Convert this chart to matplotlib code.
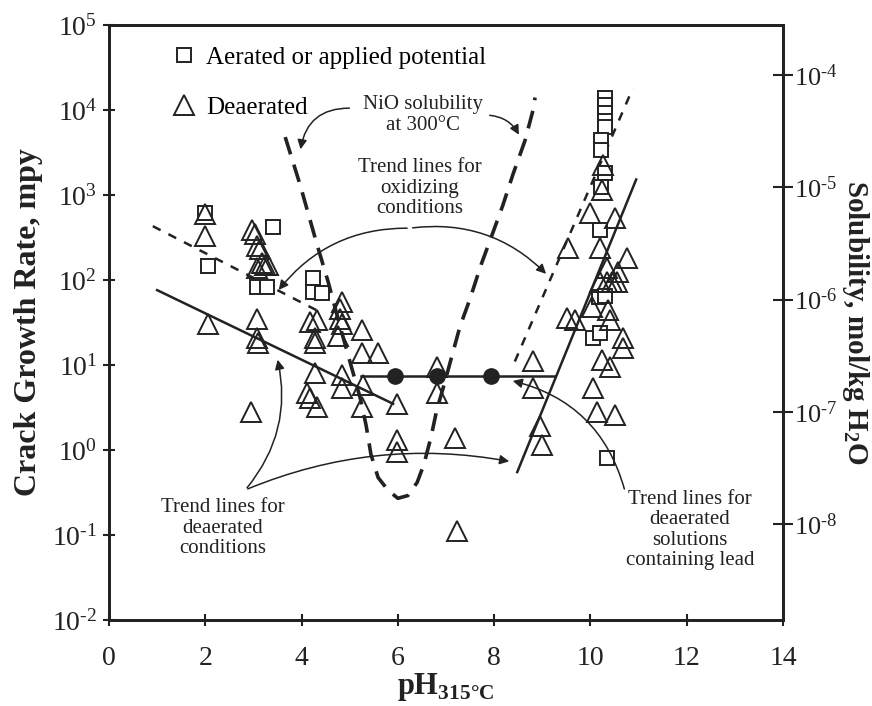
import matplotlib
matplotlib.use("Agg")
import matplotlib.pyplot as plt
import numpy as np

plt.rcParams['font.family'] = ['Liberation Serif', 'DejaVu Serif']
plt.rcParams['mathtext.fontset'] = 'custom'
plt.rcParams['mathtext.rm'] = 'Liberation Serif'
plt.rcParams['mathtext.bf'] = 'Liberation Serif:bold'
plt.rcParams['axes.unicode_minus'] = False

# aerated or applied potential (squares)
sq_ph = [2.0, 2.05, 3.07, 3.28, 3.41, 4.24, 4.24, 4.42,
         10.3, 10.3, 10.3, 10.3, 10.3, 10.22, 10.22, 10.3, 10.22,
         10.2, 10.18, 10.3, 10.05, 10.2, 10.35]
sq_rate = [620, 146, 83, 83, 420, 105, 72, 70,
           14000, 11500, 9200, 7400, 6300, 4400, 3400, 1800, 1250,
           390, 63, 65, 21, 24, 0.8]

# deaerated (triangles)
tri_ph = [2.0, 2.0, 2.05,
          2.95, 2.97, 3.03, 3.07, 3.14, 3.18, 3.24, 3.3, 3.07, 3.07, 3.07, 3.09,
          4.84, 4.80, 4.80, 4.84, 4.76, 4.32, 4.18, 4.28, 4.28, 5.26, 5.26, 5.59,
          4.28, 4.84, 4.84, 4.11, 4.18, 4.32, 5.28, 5.26, 5.98,
          6.81, 6.81, 5.98, 5.98, 7.19, 7.23,
          8.81, 8.81, 8.95, 8.99, 9.51, 9.68, 9.54,
          9.99, 10.51, 10.2, 10.76, 10.34, 10.57, 10.2, 10.34, 10.45, 10.55,
          10.03, 10.37, 10.4, 10.68, 10.68, 10.24, 10.4, 10.05, 10.13, 10.51,
          10.26, 10.24]
tri_rate = [600, 330, 30,
            2.8, 390, 350, 250, 230, 160, 150, 150, 140, 35, 21, 18,
            55, 45, 35, 30, 22, 34, 32, 21, 18, 26, 14, 14,
            8, 7.6, 5.4, 4.7, 4.1, 3.2, 5.8, 3.2, 3.5,
            9.5, 4.7, 1.3, 0.95, 1.4, 0.11,
            11, 5.4, 1.9, 1.15, 36, 34, 240,
            620, 540, 240, 180, 140, 125, 95, 95, 95, 95,
            48, 44, 34, 21, 16, 11.5, 9.5, 5.4, 2.8, 2.6,
            2250, 1150]

# lead solutions (filled circles) and trend lines
pb_ph = [5.94, 6.81, 7.94]
pb_rate = [7.4, 7.4, 7.4]
pb_line_ph = [5.23, 9.26]
pb_line_rate = [7.4, 7.4]
lead_ph = [8.48, 10.95]
lead_rate = [0.55, 1520]
deaer_ph = [1.0, 5.9]
deaer_rate = [76, 3.5]
oxl_ph = [0.91, 4.42]
oxl_rate = [430, 41]
oxr_ph = [8.43, 10.88]
oxr_rate = [11, 18000]

# NiO solubility at 300 C (right axis)
nio_ph = [3.66, 3.97, 4.32, 4.55, 4.80, 5.01, 5.22, 5.34, 5.44, 5.59, 5.80, 6.00,
          6.21, 6.40, 6.54, 6.69, 6.81, 6.96, 7.10, 7.29, 7.50, 7.73, 7.96, 8.18,
          8.39, 8.64, 8.81, 8.85]
nio_sol = [2.8e-5, 1.05e-5, 3.1e-6, 1.45e-6, 5.75e-7, 2.75e-7, 1.32e-7, 7.6e-8,
           4.2e-8, 2.6e-8, 2.0e-8, 1.7e-8, 1.8e-8, 2.35e-8, 3.4e-8, 6.0e-8,
           1.05e-7, 1.74e-7, 2.9e-7, 5.75e-7, 1.02e-6, 2.05e-6, 3.8e-6, 6.9e-6,
           1.3e-5, 2.6e-5, 4.9e-5, 6.3e-5]

left_exp = list(range(-2, 6))
right_exp = list(range(-8, -3))


def pow_label(k):
    s = str(k).replace('-', r'\text{-}')
    return r'$\mathdefault{10^{%s}}$' % s


fig = plt.figure(figsize=(8.72, 7.06), dpi=100)
ax = fig.add_axes([109/872, 1-620/706, 674/872, 595/706])
ax2 = ax.twinx()

ink = '#222222'
ax.plot(sq_ph, sq_rate, ls='none', marker='s', ms=10, mfc='white', mec=ink, mew=1.4,
        label='Aerated or applied potential', zorder=3)
ax.plot(tri_ph, tri_rate, ls='none', marker='^', ms=14, mfc='none', mec=ink, mew=1.4,
        label='Deaerated', zorder=3)

ax.plot(deaer_ph, deaer_rate, color=ink, lw=1.8)
ax.plot(lead_ph, lead_rate, color=ink, lw=1.8)
ax.plot(pb_line_ph, pb_line_rate, color=ink, lw=1.8)
ax.plot(pb_ph, pb_rate, ls='none', marker='o', ms=11, color=ink, zorder=4)
ax.plot(oxl_ph, oxl_rate, color=ink, lw=1.8, dashes=(3.5, 3.5))
ax.plot(oxr_ph, oxr_rate, color=ink, lw=1.8, dashes=(3.5, 3.5))

ax.set_xlim(0, 14)
ax.set_ylim(1e-2, 1e5)
ax.set_yscale('log')
ax2.set_yscale('log')
ax2.set_ylim(10**-8.853, 10**-3.555)
ax2.plot(nio_ph, nio_sol, color=ink, lw=2.6, dashes=(5, 3))

ax.set_xticks(range(0, 15, 2))
ax.set_yticks([10.0**k for k in left_exp], [pow_label(k) for k in left_exp])
ax.yaxis.set_minor_locator(matplotlib.ticker.NullLocator())
ax2.set_yticks([10.0**k for k in right_exp], [pow_label(k) for k in right_exp])
ax2.yaxis.set_minor_locator(matplotlib.ticker.NullLocator())

ax.tick_params(axis='both', direction='inout', length=9, width=1.5, labelsize=20,
               colors=ink, pad=4)
ax.tick_params(axis='x', pad=14)
ax2.tick_params(axis='y', direction='inout', length=14, width=1.5, labelsize=19,
                colors=ink, pad=1)
for a in (ax, ax2):
    for s in a.spines.values():
        s.set_linewidth(2)
        s.set_color(ink)

ax.set_ylabel('Crack Growth Rate, mpy', fontsize=23, fontweight='bold', color=ink,
              va='center', ha='center')
ax.yaxis.set_label_coords(-0.12, 0.5)
ax2.set_ylabel(r'Solubility, mol/kg H$_\mathbf{2}$O', fontsize=21, fontweight='bold',
               color=ink, rotation=270, va='center', ha='center')
ax2.yaxis.set_label_coords(1.108, 0.5)
ax.set_xlabel(r'pH$_\mathbf{315\degree C}$', fontsize=22, fontweight='bold', color=ink,
              labelpad=0)

ax.legend(loc='upper left', bbox_to_anchor=(0.07, 0.985), frameon=False, fontsize=18,
          labelspacing=1.1, handletextpad=0.3, handlelength=1.2, borderpad=0)

fs = 15
ls = 1.1
arr = dict(arrowstyle='-|>', color=ink, lw=1.1, mutation_scale=14)
ax.text(6.52, 10**3.94, 'NiO solubility\nat 300°C', ha='center', va='center', fontsize=fs,
        color=ink, linespacing=ls)
ax.annotate('', xy=(3.97, 3200), xytext=(5.05, 10500),
            arrowprops=dict(arr, connectionstyle='arc3,rad=0.45'))
ax.annotate('', xy=(8.54, 10**3.68), xytext=(7.85, 10**3.94),
            arrowprops=dict(arr, connectionstyle='arc3,rad=-0.3'))

ax.text(6.46, 10**3.08, 'Trend lines for\noxidizing\nconditions', ha='center', va='center',
        fontsize=fs, color=ink, linespacing=ls)
ax.annotate('', xy=(3.49, 72), xytext=(6.25, 407),
            arrowprops=dict(arr, connectionstyle='arc3,rad=0.25'))
ax.annotate('', xy=(9.12, 112), xytext=(6.25, 407),
            arrowprops=dict(arr, connectionstyle='arc3,rad=-0.25'))

ax.text(2.37, 10**-0.92, 'Trend lines for\ndeaerated\nconditions', ha='center', va='center',
        fontsize=fs, color=ink, linespacing=ls)
ax.annotate('', xy=(3.49, 10**1.094), xytext=(2.83, 10**-0.47),
            arrowprops=dict(arr, connectionstyle='arc3,rad=0.25'))
ax.annotate('', xy=(8.37, 10**-0.14), xytext=(2.83, 10**-0.47),
            arrowprops=dict(arr, connectionstyle='arc3,rad=-0.15'))

ax.text(12.07, 10**-0.94, 'Trend lines for\ndeaerated\nsolutions\ncontaining lead',
        ha='center', va='center', fontsize=fs, color=ink, linespacing=ls)
ax.annotate('', xy=(8.33, 10**0.82), xytext=(10.72, 10**-0.49),
            arrowprops=dict(arr, connectionstyle='arc3,rad=0.3'))

fig.savefig('out.png', dpi=100)
